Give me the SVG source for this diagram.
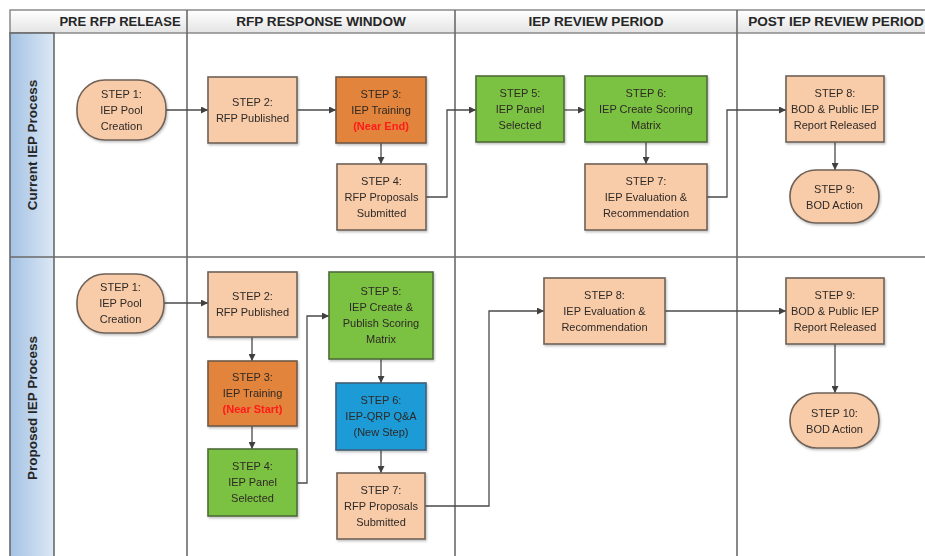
<svg xmlns="http://www.w3.org/2000/svg" width="925" height="556" viewBox="0 0 925 556">
<defs>
<linearGradient id="hdr" x1="0" y1="0" x2="0" y2="1"><stop offset="0" stop-color="#ffffff"/><stop offset="1" stop-color="#e4e4e4"/></linearGradient>
<linearGradient id="lane" x1="0" y1="0" x2="1" y2="0"><stop offset="0" stop-color="#a4c2e4"/><stop offset="1" stop-color="#dce8f5"/></linearGradient>
<marker id="arr" viewBox="0 0 10 10" refX="10" refY="5" markerWidth="7" markerHeight="7" markerUnits="userSpaceOnUse" orient="auto"><path d="M0,0 L10,5 L0,10 z" fill="#404040"/></marker>
<filter id="sh" x="-10%" y="-10%" width="125%" height="130%"><feDropShadow dx="1" dy="1.5" stdDeviation="1" flood-color="#000" flood-opacity="0.25"/></filter>
</defs>
<style>
.peach{fill:#f9cca9;stroke:#6f6258;stroke-width:1.6}
.dark{fill:#e2843a;stroke:#6f5a48;stroke-width:1.6}
.green{fill:#7cc243;stroke:#4f6b3a;stroke-width:1.6}
.blue{fill:#1c9bd7;stroke:#3f5f78;stroke-width:1.6}
.n{font-family:"Liberation Sans",Arial,sans-serif;font-size:11px;fill:#2e2926;text-anchor:middle}
.red{fill:#ff1a1a;font-weight:bold}
.h{font-family:"Liberation Sans",Arial,sans-serif;font-size:13.6px;font-weight:bold;fill:#262626;text-anchor:middle}
.lt{font-family:"Liberation Sans",Arial,sans-serif;font-size:13.5px;font-weight:bold;fill:#262626;text-anchor:middle}
.div{stroke:#6a6a6a;stroke-width:1.6;fill:none}
.c{stroke:#4a4a4a;stroke-width:1.3;fill:none;marker-end:url(#arr)}
</style>
<rect x="0" y="0" width="925" height="556" fill="#ffffff"/>
<g id="swimlanes">
<rect x="10" y="10" width="920" height="23" fill="url(#hdr)" stroke="#8a8a8a" stroke-width="1.5"/>
<rect x="10" y="33" width="44" height="530" fill="url(#lane)" stroke="#6a6a6a" stroke-width="1.6"/>
<line class="div" x1="10" y1="257" x2="925" y2="257"/>
<line class="div" x1="187" y1="10" x2="187" y2="556"/>
<line class="div" x1="455" y1="10" x2="455" y2="556"/>
<line class="div" x1="737" y1="10" x2="737" y2="556"/>
<text class="h" x="120" y="26" style="font-size:13px">PRE RFP RELEASE</text>
<text class="h" x="321" y="26">RFP RESPONSE WINDOW</text>
<text class="h" x="596" y="26">IEP REVIEW PERIOD</text>
<text class="h" x="836" y="26">POST IEP REVIEW PERIOD</text>
<text class="lt" transform="translate(37,145) rotate(-90)">Current IEP Process</text>
<text class="lt" transform="translate(37,408) rotate(-90)">Proposed IEP Process</text>
</g>
<g id="connectors">
<path class="c" d="M166,110 H208"/>
<path class="c" d="M297,110 H336"/>
<path class="c" d="M381,143 V164"/>
<path class="c" d="M426,197 H447 V110 H476"/>
<path class="c" d="M564,110 H585"/>
<path class="c" d="M646,142 V164"/>
<path class="c" d="M707,197 H727 V110 H786"/>
<path class="c" d="M835,142 V170"/>
<path class="c" d="M164,303 H208"/>
<path class="c" d="M252,337 V361"/>
<path class="c" d="M252,426 V449"/>
<path class="c" d="M297,483 H307 V316 H329"/>
<path class="c" d="M381,359 V383"/>
<path class="c" d="M381,450 V473"/>
<path class="c" d="M425,506 H489 V311 H544"/>
<path class="c" d="M665,311 H786"/>
<path class="c" d="M835,344 V393"/>
</g>
<g id="c1" filter="url(#sh)"><rect class="peach" x="77" y="80" width="89" height="60" rx="28"/>
<text class="n" x="121.5" y="98">STEP 1:<tspan x="121.5" dy="16">IEP Pool</tspan><tspan x="121.5" dy="16">Creation</tspan></text></g>
<g id="c2" filter="url(#sh)"><rect class="peach" x="208" y="77" width="89" height="66"/>
<text class="n" x="252.5" y="106">STEP 2:<tspan x="252.5" dy="16">RFP Published</tspan></text></g>
<g id="c3" filter="url(#sh)"><rect class="dark" x="336" y="77" width="90" height="66"/>
<text class="n" x="381" y="98">STEP 3:<tspan x="381" dy="16">IEP Training</tspan><tspan x="381" dy="16" class="red">(Near End)</tspan></text></g>
<g id="c4" filter="url(#sh)"><rect class="peach" x="337" y="164" width="89" height="66"/>
<text class="n" x="381.5" y="185">STEP 4:<tspan x="381.5" dy="16">RFP Proposals</tspan><tspan x="381.5" dy="16">Submitted</tspan></text></g>
<g id="c5" filter="url(#sh)"><rect class="green" x="476" y="76" width="88" height="66"/>
<text class="n" x="520" y="97">STEP 5:<tspan x="520" dy="16">IEP Panel</tspan><tspan x="520" dy="16">Selected</tspan></text></g>
<g id="c6" filter="url(#sh)"><rect class="green" x="585" y="76" width="122" height="66"/>
<text class="n" x="646" y="97">STEP 6:<tspan x="646" dy="16">IEP Create Scoring</tspan><tspan x="646" dy="16">Matrix</tspan></text></g>
<g id="c7" filter="url(#sh)"><rect class="peach" x="585" y="164" width="122" height="66"/>
<text class="n" x="646" y="185">STEP 7:<tspan x="646" dy="16">IEP Evaluation &amp;</tspan><tspan x="646" dy="16">Recommendation</tspan></text></g>
<g id="c8" filter="url(#sh)"><rect class="peach" x="786" y="76" width="98" height="66"/>
<text class="n" x="835" y="97">STEP 8:<tspan x="835" dy="16">BOD &amp; Public IEP</tspan><tspan x="835" dy="16">Report Released</tspan></text></g>
<g id="c9" filter="url(#sh)"><rect class="peach" x="790" y="170" width="89" height="53" rx="26"/>
<text class="n" x="834.5" y="193">STEP 9:<tspan x="834.5" dy="16">BOD Action</tspan></text></g>
<g id="p1" filter="url(#sh)"><rect class="peach" x="77" y="274" width="87" height="59" rx="28"/>
<text class="n" x="120.5" y="291">STEP 1:<tspan x="120.5" dy="16">IEP Pool</tspan><tspan x="120.5" dy="16">Creation</tspan></text></g>
<g id="p2" filter="url(#sh)"><rect class="peach" x="208" y="272" width="89" height="65"/>
<text class="n" x="252.5" y="300">STEP 2:<tspan x="252.5" dy="16">RFP Published</tspan></text></g>
<g id="p3" filter="url(#sh)"><rect class="dark" x="208" y="361" width="89" height="65"/>
<text class="n" x="252.5" y="381">STEP 3:<tspan x="252.5" dy="16">IEP Training</tspan><tspan x="252.5" dy="16" class="red">(Near Start)</tspan></text></g>
<g id="p4" filter="url(#sh)"><rect class="green" x="208" y="449" width="89" height="67"/>
<text class="n" x="252.5" y="470">STEP 4:<tspan x="252.5" dy="16">IEP Panel</tspan><tspan x="252.5" dy="16">Selected</tspan></text></g>
<g id="p5" filter="url(#sh)"><rect class="green" x="329" y="272" width="104" height="87"/>
<text class="n" x="381" y="295">STEP 5:<tspan x="381" dy="16">IEP Create &amp;</tspan><tspan x="381" dy="16">Publish Scoring</tspan><tspan x="381" dy="16">Matrix</tspan></text></g>
<g id="p6" filter="url(#sh)"><rect class="blue" x="336" y="383" width="90" height="67"/>
<text class="n" x="381" y="404">STEP 6:<tspan x="381" dy="16">IEP-QRP Q&amp;A</tspan><tspan x="381" dy="16">(New Step)</tspan></text></g>
<g id="p7" filter="url(#sh)"><rect class="peach" x="337" y="473" width="88" height="66"/>
<text class="n" x="381" y="494">STEP 7:<tspan x="381" dy="16">RFP Proposals</tspan><tspan x="381" dy="16">Submitted</tspan></text></g>
<g id="p8" filter="url(#sh)"><rect class="peach" x="544" y="278" width="121" height="66"/>
<text class="n" x="604.5" y="299">STEP 8:<tspan x="604.5" dy="16">IEP Evaluation &amp;</tspan><tspan x="604.5" dy="16">Recommendation</tspan></text></g>
<g id="p9" filter="url(#sh)"><rect class="peach" x="786" y="278" width="98" height="66"/>
<text class="n" x="835" y="299">STEP 9:<tspan x="835" dy="16">BOD &amp; Public IEP</tspan><tspan x="835" dy="16">Report Released</tspan></text></g>
<g id="p10" filter="url(#sh)"><rect class="peach" x="790" y="393" width="89" height="55" rx="27"/>
<text class="n" x="834.5" y="417">STEP 10:<tspan x="834.5" dy="16">BOD Action</tspan></text></g>
</svg>
